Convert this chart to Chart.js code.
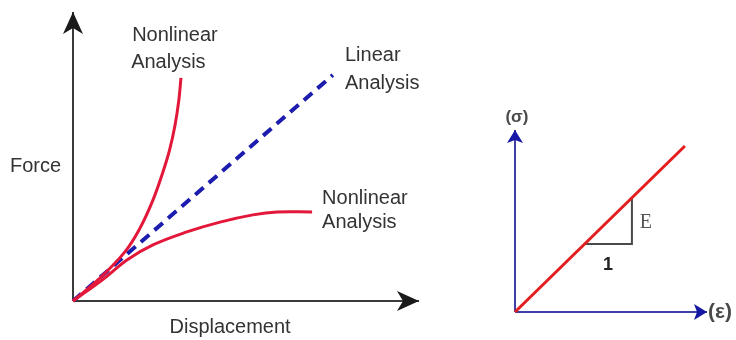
<!DOCTYPE html>
<html>
<head>
<meta charset="utf-8">
<script src="https://cdn.jsdelivr.net/npm/chart.js@4/dist/chart.umd.min.js"></script>
<style>
  html, body { margin: 0; padding: 0; background: #fff; }
  #wrap { position: relative; width: 736px; height: 340px; overflow: hidden; background: #fff; }
  canvas { position: absolute; top: 0; }
  #left { left: 0; }
  #right { left: 480px; }
</style>
</head>
<body>
<div id="wrap">
  <canvas id="left" width="460" height="340"></canvas>
  <canvas id="right" width="256" height="340"></canvas>
</div>
<script>
// ---------- Data (left: force vs displacement, arbitrary units 0..10) ----------
const displacementStiffening = [0, 0.72, 1.50, 1.94, 2.31, 2.59, 2.79, 2.95, 3.06, 3.12];
const forceStiffening        = [0, 0.73, 1.70, 2.53, 3.49, 4.43, 5.22, 6.09, 6.96, 7.72];
const displacementSoftening  = [0, 0.87, 1.56, 2.31, 3.29, 4.25, 5.20, 5.90, 6.91];
const forceSoftening         = [0, 0.75, 1.42, 1.94, 2.39, 2.73, 2.98, 3.08, 3.08];
const displacementLinear     = [0, 7.51];
const forceLinear            = [0, 7.82];
const leftAxisX = [0, 10];
const leftAxisY = [0, 10];

// ---------- Data (right: stress vs strain, arbitrary units 0..10) ----------
const strain = [0, 8.85];
const stress = [0, 9.12];
const slopeTriangleX = [3.65, 6.09, 6.09];
const slopeTriangleY = [3.74, 3.74, 6.26];
const rightAxisX = [0, 10];
const rightAxisY = [0, 10];

// ---------- Text labels ----------
const leftLabels = [
  { text: 'Nonlinear', x: 1.71, y: 9.20 },
  { text: 'Analysis',  x: 1.68, y: 8.27 },
  { text: 'Linear',    x: 7.86, y: 8.51 },
  { text: 'Analysis',  x: 7.86, y: 7.54 },
  { text: 'Nonlinear', x: 7.20, y: 3.56 },
  { text: 'Analysis',  x: 7.20, y: 2.70 },
  { text: 'Force',     x: -1.82, y: 4.64 },
  { text: 'Displacement', x: 4.54, y: -0.93, center: true }
];
const rightLabels = [
  { text: '(σ)', x: 0.1,  y: 10.71, font: 'bold 17px "Liberation Sans", Arial, sans-serif', color: '#4a4a4a' },
  { text: '(ε)', x: 10.68, y: 0.0, font: 'bold 21px "Liberation Sans", Arial, sans-serif', color: '#4a4a4a' },
  { text: 'E',   x: 6.82, y: 4.89, font: '20px "Liberation Serif", "Times New Roman", serif', color: '#555' },
  { text: '1',   x: 4.84, y: 2.58, font: 'bold 18px "Liberation Sans", Arial, sans-serif', color: '#222' }
];

function pts(xs, ys) { return xs.map((x, i) => ({ x: x, y: ys[i] })); }

function arrowImage(w, h, notch, color) {
  const c = document.createElement('canvas');
  c.width = w; c.height = 2 * h;
  const g = c.getContext('2d');
  g.fillStyle = color;
  g.beginPath();
  g.moveTo(w / 2, h);
  g.lineTo(w, 2 * h);
  g.lineTo(w / 2, 2 * h - notch);
  g.lineTo(0, 2 * h);
  g.closePath();
  g.fill();
  return c;
}

function labelPlugin(labels, defFont, defColor) {
  return {
    id: 'labels',
    afterDatasetsDraw(chart) {
      const ctx = chart.ctx;
      const xs = chart.scales.x, ys = chart.scales.y;
      ctx.save();
      ctx.textBaseline = 'middle';
      labels.forEach(l => {
        ctx.font = l.font || defFont;
        ctx.fillStyle = l.color || defColor;
        ctx.textAlign = (l.center || l.font) ? 'center' : 'left';
        ctx.fillText(l.text, xs.getPixelForValue(l.x), ys.getPixelForValue(l.y));
      });
      ctx.restore();
    }
  };
}

const baseOpts = (padding) => ({
  responsive: false,
  animation: false,
  devicePixelRatio: 1,
  events: [],
  layout: { padding: padding },
  plugins: { legend: { display: false }, tooltip: { enabled: false } },
  scales: {
    x: { type: 'linear', min: 0, max: 10, display: false },
    y: { type: 'linear', min: 0, max: 10, display: false }
  }
});

const leftArrow = arrowImage(20, 22, 6, '#1a1a1a');
const red = '#e3173a';
const blue = '#1c1cae';

new Chart(document.getElementById('left'), {
  type: 'scatter',
  data: {
    datasets: [
      { data: pts(displacementStiffening, forceStiffening), showLine: true, borderColor: red, borderWidth: 3,
        pointRadius: 0, tension: 0.4, clip: false },
      { data: pts(displacementSoftening, forceSoftening), showLine: true, borderColor: red, borderWidth: 3,
        pointRadius: 0, tension: 0.4, clip: false },
      { data: pts(displacementLinear, forceLinear), showLine: true, borderColor: blue, borderWidth: 4,
        borderDash: [11, 7], pointRadius: 0, clip: false },
      { data: [{ x: leftAxisX[0], y: 0 }, { x: leftAxisX[1], y: 0 }], showLine: true, borderColor: '#3a3a3a',
        borderWidth: 2, pointRadius: [0, 6], pointStyle: leftArrow, pointRotation: 90, clip: false },
      { data: [{ x: 0, y: leftAxisY[0] }, { x: 0, y: leftAxisY[1] }], showLine: true, borderColor: '#3a3a3a',
        borderWidth: 2, pointRadius: [0, 6], pointStyle: leftArrow, pointRotation: 0, clip: false }
    ]
  },
  options: baseOpts({ left: 73, right: 41, top: 12, bottom: 39 }),
  plugins: [labelPlugin(leftLabels, '20px "Liberation Sans", Arial, sans-serif', '#333')]
});

const rightArrow = arrowImage(16, 13, 3, '#1717a6');

new Chart(document.getElementById('right'), {
  type: 'scatter',
  data: {
    datasets: [
      { data: pts(strain, stress), showLine: true, borderColor: '#e41e1e', borderWidth: 3, pointRadius: 0, clip: false },
      { data: pts(slopeTriangleX, slopeTriangleY), showLine: true, borderColor: '#4a4a4a', borderWidth: 2,
        pointRadius: 0, clip: false },
      { data: [{ x: rightAxisX[0], y: 0 }, { x: rightAxisX[1], y: 0 }], showLine: true, borderColor: '#3f3fa5',
        borderWidth: 2, pointRadius: [0, 6], pointStyle: rightArrow, pointRotation: 90, clip: false },
      { data: [{ x: 0, y: rightAxisY[0] }, { x: 0, y: rightAxisY[1] }], showLine: true, borderColor: '#3f3fa5',
        borderWidth: 2, pointRadius: [0, 6], pointStyle: rightArrow, pointRotation: 0, clip: false }
    ]
  },
  options: baseOpts({ left: 35, right: 29, top: 130, bottom: 28 }),
  plugins: [labelPlugin(rightLabels, '18px "Liberation Sans", Arial, sans-serif', '#444')]
});
</script>
</body>
</html>
